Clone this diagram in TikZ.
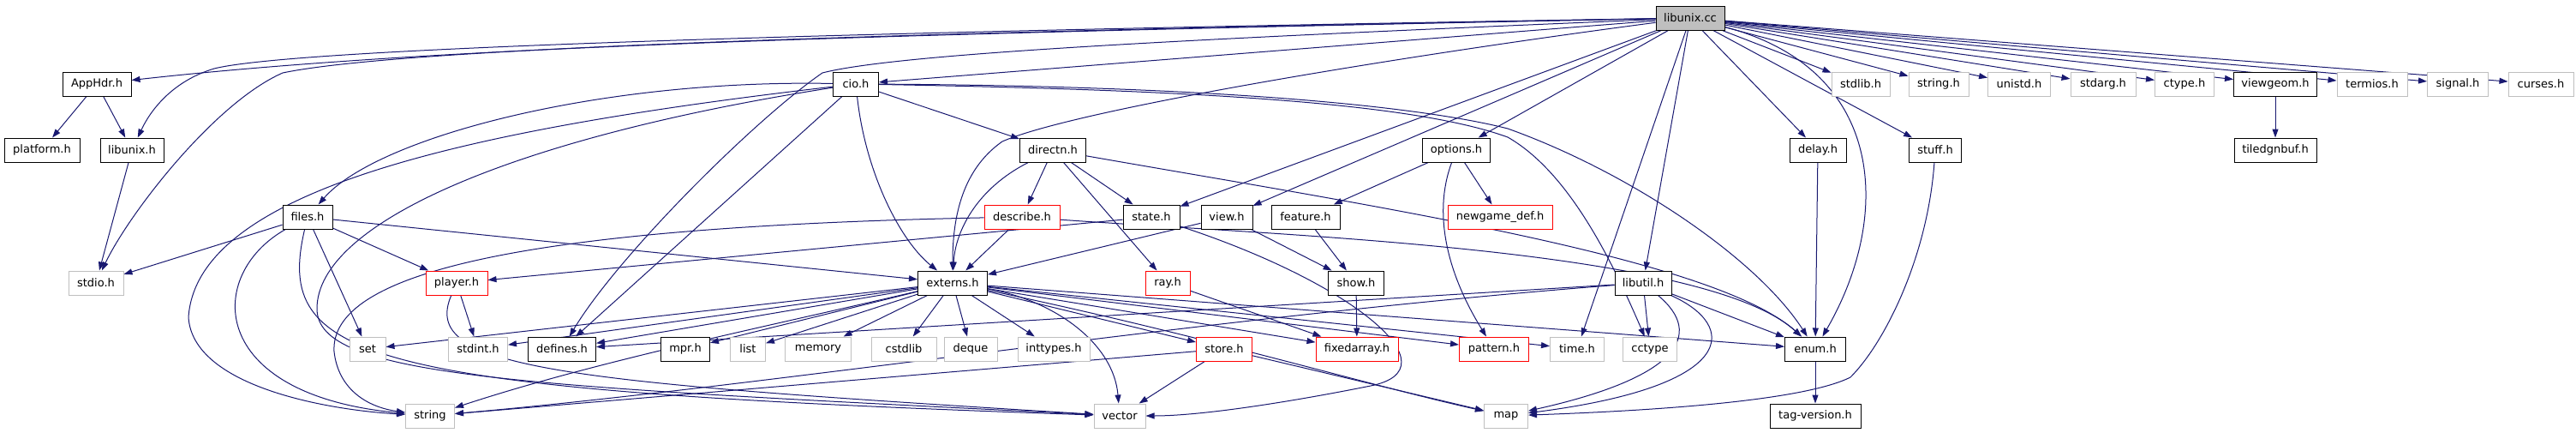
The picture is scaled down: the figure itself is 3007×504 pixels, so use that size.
\documentclass[tikz,border=0pt]{standalone}
\usepackage{fontspec}
\setmainfont{DejaVu Sans}
\usepackage{tikz}
\usetikzlibrary{arrows.meta,backgrounds}
\definecolor{edgeblue}{HTML}{191970}
\definecolor{sysgray}{HTML}{BFBFBF}
\tikzset{>={Triangle[length=10pt,width=7pt]}}
\tikzset{
  file/.style={draw,fill=white,line width=1pt,minimum height=28pt,inner sep=2pt,
    font=\fontsize{13pt}{15pt}\selectfont},
  hdr/.style={file,draw=black},
  sys/.style={file,draw=sysgray},
  part/.style={file,draw=red},
  mainfile/.style={file,draw=black,fill=sysgray},
  dep/.style={->,draw=edgeblue,line width=1pt}
}

\begin{document}
\begin{tikzpicture}[x=1pt,y=-1pt]
\useasboundingbox (0,0) rectangle (3007,504);
% row 1
\node[mainfile,minimum width=80pt] (cc) at (1973,21) {libunix.cc};
% row 2
\node[hdr,minimum width=80pt] (apphdr) at (113,98) {AppHdr.h};
\node[hdr,minimum width=53pt] (cio) at (999,98) {cio.h};
\node[sys,minimum width=68pt] (stdlibh) at (2172,98) {stdlib.h};
\node[sys,minimum width=70pt] (stringh) at (2263,98) {string.h};
\node[sys,minimum width=73pt] (unistd) at (2357,98) {unistd.h};
\node[sys,minimum width=76pt] (stdarg) at (2455,98) {stdarg.h};
\node[sys,minimum width=69pt] (ctypeh) at (2550,98) {ctype.h};
\node[hdr,minimum width=97pt] (viewgeom) at (2656,98) {viewgeom.h};
\node[sys,minimum width=82pt] (termios) at (2769,98) {termios.h};
\node[sys,minimum width=71pt] (signalh) at (2869,98) {signal.h};
\node[sys,minimum width=76pt] (curses) at (2966,98) {curses.h};
% row 3
\node[hdr,minimum width=88pt] (platform) at (49,175) {platform.h};
\node[hdr,minimum width=74pt] (libunixh) at (154,175) {libunix.h};
\node[hdr,minimum width=77pt] (directn) at (1229,175) {directn.h};
\node[hdr,minimum width=79pt] (options) at (1700,175) {options.h};
\node[hdr,minimum width=66pt] (delay) at (2122,175) {delay.h};
\node[hdr,minimum width=61pt] (stuff) at (2259,175) {stuff.h};
\node[hdr,minimum width=96pt] (tiledgnbuf) at (2656,175) {tiledgnbuf.h};
% row 4
\node[hdr,minimum width=58pt] (files) at (359,253) {files.h};
\node[part,minimum width=88pt] (describe) at (1193,253) {describe.h};
\node[hdr,minimum width=66pt] (state) at (1344,253) {state.h};
\node[hdr,minimum width=60pt] (view) at (1432,253) {view.h};
\node[hdr,minimum width=80pt] (feature) at (1524,253) {feature.h};
\node[part,minimum width=122pt] (newgame) at (1751,253) {newgame\_def.h};
% row 5
\node[sys,minimum width=64pt] (stdio) at (112,330) {stdio.h};
\node[part,minimum width=72pt] (player) at (533,330) {player.h};
\node[hdr,minimum width=81pt] (externs) at (1112,330) {externs.h};
\node[part,minimum width=52pt] (ray) at (1363,330) {ray.h};
\node[hdr,minimum width=65pt] (show) at (1583,330) {show.h};
\node[hdr,minimum width=66pt] (libutil) at (1918,330) {libutil.h};
% row 6
\node[sys,minimum width=42pt] (set) at (429,407) {set};
\node[sys,minimum width=69pt] (stdint) at (558,407) {stdint.h};
\node[hdr,minimum width=79pt] (defines) at (656,407) {defines.h};
\node[hdr,minimum width=57pt] (mpr) at (800,407) {mpr.h};
\node[sys,minimum width=41pt] (list) at (873,407) {list};
\node[sys,minimum width=77pt] (memory) at (955,407) {memory};
\node[sys,minimum width=76pt] (cstdlib) at (1055,407) {cstdlib};
\node[sys,minimum width=62pt] (deque) at (1133,407) {deque};
\node[sys,minimum width=84pt] (inttypes) at (1230,407) {inttypes.h};
\node[part,minimum width=65pt] (store) at (1429,407) {store.h};
\node[part,minimum width=96pt] (fixedarray) at (1584,407) {fixedarray.h};
\node[part,minimum width=81pt] (pattern) at (1744,407) {pattern.h};
\node[sys,minimum width=63pt] (time) at (1841,407) {time.h};
\node[sys,minimum width=63pt] (cctype) at (1926,407) {cctype};
\node[hdr,minimum width=71pt] (enumh) at (2119,407) {enum.h};
% row 7
\node[sys,minimum width=57pt] (string) at (502,485) {string};
\node[sys,minimum width=60pt] (vector) at (1307,485) {vector};
\node[sys,minimum width=51pt] (map) at (1758,485) {map};
\node[hdr,minimum width=106pt] (tagversion) at (2119,485) {tag-version.h};

\begin{pgfonlayer}{background}
% straight includes
\foreach \a/\b in {cc/cio,cc/state,cc/view,cc/options,cc/time,cc/libutil,cc/delay,
    cc/stuff,cc/stdlibh,cc/stringh,cc/unistd,cc/stdarg,cc/ctypeh,cc/viewgeom,
    cc/termios,cc/signalh,cc/curses,apphdr/platform,apphdr/libunixh,libunixh/stdio,
    cio/defines,cio/directn,files/stdio,files/set,files/player,files/externs,
    player/stdint,state/player,directn/describe,directn/state,directn/ray,
    describe/externs,view/externs,view/show,feature/show,options/feature,
    options/newgame,externs/set,externs/stdint,externs/defines,externs/mpr,
    externs/list,externs/memory,externs/cstdlib,externs/deque,externs/inttypes,
    externs/store,externs/fixedarray,externs/pattern,externs/time,externs/enumh,
    ray/fixedarray,show/fixedarray,store/string,store/vector,store/map,
    libutil/defines,libutil/cctype,libutil/enumh,delay/enumh,enumh/tagversion,
    viewgeom/tiledgnbuf}
  \draw[dep] (\a) -- (\b);
% curved ones
\draw[dep] (cc) .. controls (1000,40) and (500,55) .. (apphdr);
\draw[dep] (cc) .. controls (800,40) and (330,60) .. (250,80) .. controls (200,95) and (175,130) .. (libunixh);
\draw[dep] (cc) .. controls (900,40) and (450,60) .. (330,85) .. controls (250,120) and (150,250) .. (stdio);
\draw[dep] (cc) .. controls (1400,45) and (1050,62) .. (960,85) .. controls (880,140) and (720,300) .. (defines);
\draw[dep] (cc) .. controls (1600,70) and (1250,130) .. (1170,165) .. controls (1120,200) and (1112,260) .. (externs);
\draw[dep] (cc) .. controls (2200,80) and (2210,250) .. (enumh);
\draw[dep] (cio) .. controls (700,92) and (440,160) .. (files);
\draw[dep] (cio) .. controls (550,150) and (230,220) .. (220,370) .. controls (225,450) and (380,478) .. (string);
\draw[dep] (cio) .. controls (600,160) and (370,260) .. (370,360) .. controls (370,440) and (600,450) .. (vector);
\draw[dep] (cio) .. controls (1010,200) and (1050,280) .. (externs);
\draw[dep] (cio) .. controls (1400,105) and (1650,120) .. (1760,160) .. controls (1830,200) and (1880,300) .. (cctype);
\draw[dep] (cio) .. controls (1400,100) and (1650,122) .. (1760,150) .. controls (1900,200) and (2050,300) .. (enumh);
\draw[dep] (files) .. controls (240,320) and (240,460) .. (string);
\draw[dep] (files) .. controls (320,420) and (420,455) .. (vector);
\draw[dep] (player) .. controls (490,430) and (650,445) .. (vector);
\draw[dep] (state) .. controls (1580,330) and (1700,430) .. (1600,450) .. controls (1500,470) and (1400,485) .. (vector);
\draw[dep] (directn) .. controls (1140,220) and (1115,270) .. (externs);
\draw[dep] (directn) .. controls (1600,240) and (2000,300) .. (enumh);
\draw[dep] (describe) .. controls (1500,275) and (1990,290) .. (enumh);
\draw[dep] (describe) .. controls (600,265) and (385,320) .. (390,410) .. controls (395,455) and (430,475) .. (string);
\draw[dep] (options) .. controls (1672,250) and (1690,320) .. (pattern);
\draw[dep] (externs) .. controls (1230,350) and (1300,400) .. (vector);
\draw[dep] (externs) .. controls (900,380) and (700,420) .. (string);
\draw[dep] (externs) .. controls (1400,390) and (1600,450) .. (map);
\draw[dep] (libutil) .. controls (1400,370) and (900,450) .. (string);
\draw[dep] (libutil) .. controls (1990,390) and (1960,440) .. (map);
\draw[dep] (libutil) .. controls (2030,380) and (2030,450) .. (map);
\draw[dep] (stuff) .. controls (2250,300) and (2200,400) .. (2160,440) .. controls (2100,470) and (1900,480) .. (map);
\end{pgfonlayer}
\end{tikzpicture}
\end{document}
